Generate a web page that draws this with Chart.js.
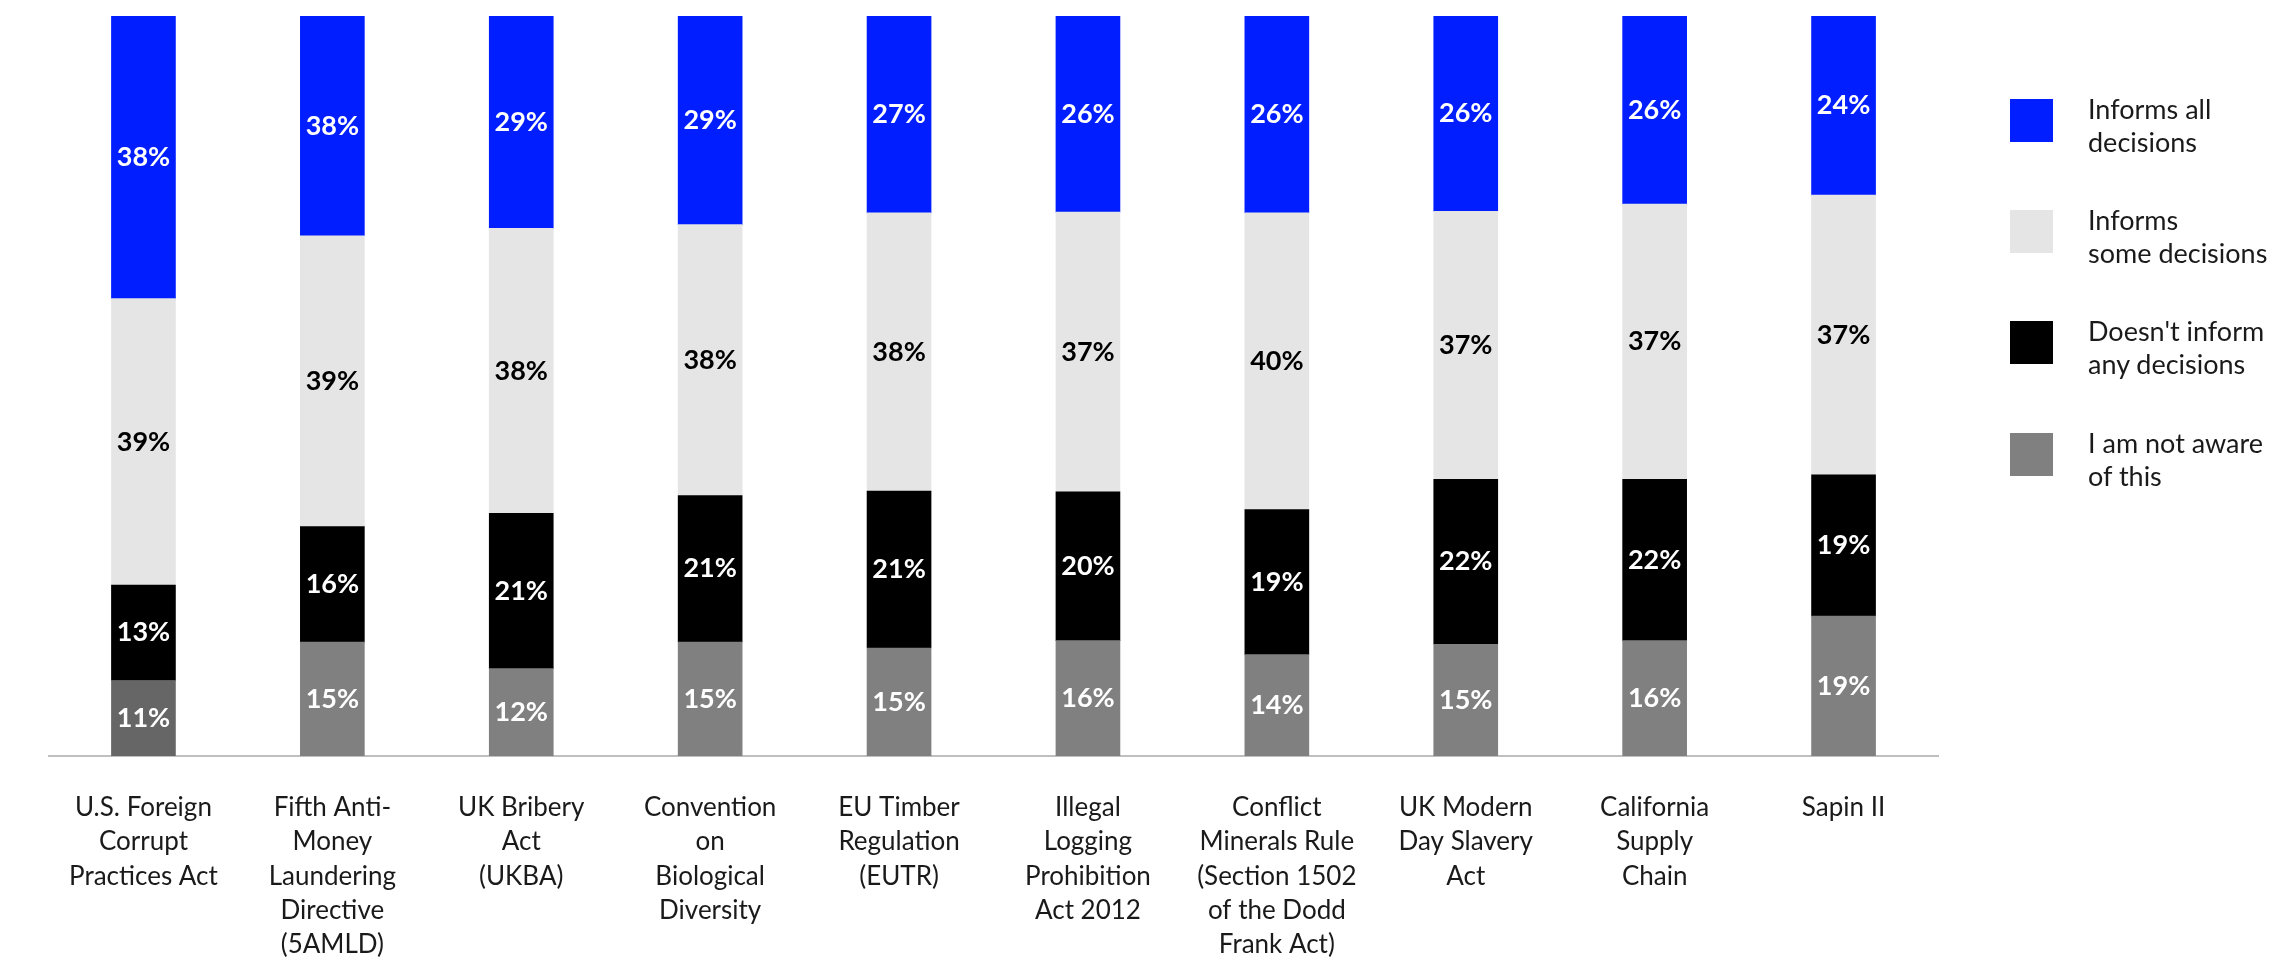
<!DOCTYPE html>
<html>
<head>
<meta charset="utf-8">
<script src="https://cdn.jsdelivr.net/npm/chart.js@4/dist/chart.umd.min.js"></script>
<style>
  html, body { margin: 0; padding: 0; background: #fff; }
  #wrap { position: relative; width: 2280px; height: 961px; }
  #legend { position: absolute; left: 2010px; top: 0; font-family: Lato, sans-serif; font-size: 27px; line-height: 33px; color: #1a1a1a; }
  .item { position: absolute; left: 0; width: 270px; height: 43px; }
  .sw { position: absolute; left: 0; top: 0; width: 43px; height: 43px; }
  .tx { position: absolute; left: 78px; top: calc(50% + 4px); transform: translateY(-50%); white-space: nowrap; }
</style>
</head>
<body>
<div id="wrap">
  <canvas id="chart" width="2280" height="961"></canvas>
  <div id="legend"></div>
</div>
<script>
const categories = [
  ['U.S. Foreign', 'Corrupt', 'Practices Act'],
  ['Fifth Anti-', 'Money', 'Laundering', 'Directive', '(5AMLD)'],
  ['UK Bribery', 'Act', '(UKBA)'],
  ['Convention', 'on', 'Biological', 'Diversity'],
  ['EU Timber', 'Regulation', '(EUTR)'],
  ['Illegal', 'Logging', 'Prohibition', 'Act 2012'],
  ['Conflict', 'Minerals Rule', '(Section 1502', 'of the Dodd', 'Frank Act)'],
  ['UK Modern', 'Day Slavery', 'Act'],
  ['California', 'Supply', 'Chain'],
  ['Sapin II']
];

const seriesNames = [
  ['Informs all', 'decisions'],
  ['Informs', 'some decisions'],
  ["Doesn't inform", 'any decisions'],
  ['I am not aware', 'of this']
];

// bar heights (share of bar)
const informsAll  = [38.2, 29.7, 28.7, 28.2, 26.6, 26.5, 26.6, 26.4, 25.4, 24.2];
const informsSome = [38.7, 39.3, 38.5, 36.6, 37.6, 37.8, 40.1, 36.2, 37.2, 37.8];
const informsNone = [12.9, 15.6, 21.0, 19.8, 21.2, 20.1, 19.6, 22.3, 21.8, 19.1];
const notAware    = [10.2, 15.4, 11.8, 15.4, 14.6, 15.6, 13.7, 15.1, 15.6, 18.9];

// printed percentages
const printedAll  = [38, 38, 29, 29, 27, 26, 26, 26, 26, 24];
const printedSome = [39, 39, 38, 38, 38, 37, 40, 37, 37, 37];
const printedNone = [13, 16, 21, 21, 21, 20, 19, 22, 22, 19];
const printedNot  = [11, 15, 12, 15, 15, 16, 14, 15, 16, 19];

const colAll = '#001eff', colSome = '#e5e5e5', colNone = '#000000', colNot = '#808080';

const segLabels = {
  id: 'segLabels',
  afterDatasetsDraw(chart) {
    const ctx = chart.ctx;
    const area = chart.chartArea;
    ctx.save();
    ctx.font = 'bold 27px Lato';
    ctx.textAlign = 'center';
    ctx.textBaseline = 'middle';
    chart.data.datasets.forEach((ds, i) => {
      chart.getDatasetMeta(i).data.forEach((bar, j) => {
        let top = Math.max(bar.y, area.top);
        let bottom = bar.base;
        ctx.fillStyle = ds.textColor;
        ctx.fillText(ds.printed[j] + '%', bar.x, (top + bottom) / 2);
      });
    });
    ctx.restore();
  }
};

new Chart(document.getElementById('chart'), {
  type: 'bar',
  data: {
    labels: categories,
    datasets: [
      { label: seriesNames[3].join(' '), data: notAware, printed: printedNot, textColor: '#fff',
        backgroundColor: notAware.map((v, i) => i === 0 ? '#666666' : colNot) },
      { label: seriesNames[2].join(' '), data: informsNone, printed: printedNone, textColor: '#fff', backgroundColor: colNone },
      { label: seriesNames[1].join(' '), data: informsSome, printed: printedSome, textColor: '#000', backgroundColor: colSome },
      { label: seriesNames[0].join(' '), data: informsAll, printed: printedAll, textColor: '#fff', backgroundColor: colAll }
    ]
  },
  options: {
    responsive: false,
    animation: false,
    layout: { padding: { left: 49, right: 342, top: 16, bottom: 0 } },
    datasets: { bar: { barThickness: 64, borderWidth: 0 } },
    plugins: { legend: { display: false }, tooltip: { enabled: false } },
    scales: {
      x: {
        stacked: true,
        afterFit: s => { s.height = 205; },
        grid: { display: false, drawTicks: false },
        border: { color: '#bfbfbf', width: 2 },
        ticks: {
          padding: 35,
          maxRotation: 0,
          autoSkip: false,
          color: '#1a1a1a',
          font: { family: 'Lato', size: 26, lineHeight: 1.31 }
        }
      },
      y: { stacked: true, display: false, min: 0, max: 100 }
    }
  },
  plugins: [segLabels]
});

// legend, top to bottom
const legendRows = [
  [seriesNames[0], colAll, 99],
  [seriesNames[1], colSome, 210],
  [seriesNames[2], colNone, 321],
  [seriesNames[3], colNot, 433]
];
let lg = document.getElementById('legend');
legendRows.forEach(r => {
  let it = document.createElement('div');
  it.className = 'item';
  it.style.top = r[2] + 'px';
  it.innerHTML = '<div class="sw" style="background:' + r[1] + '"></div><div class="tx">' + r[0].join('<br>') + '</div>';
  lg.appendChild(it);
});
</script>
</body>
</html>
